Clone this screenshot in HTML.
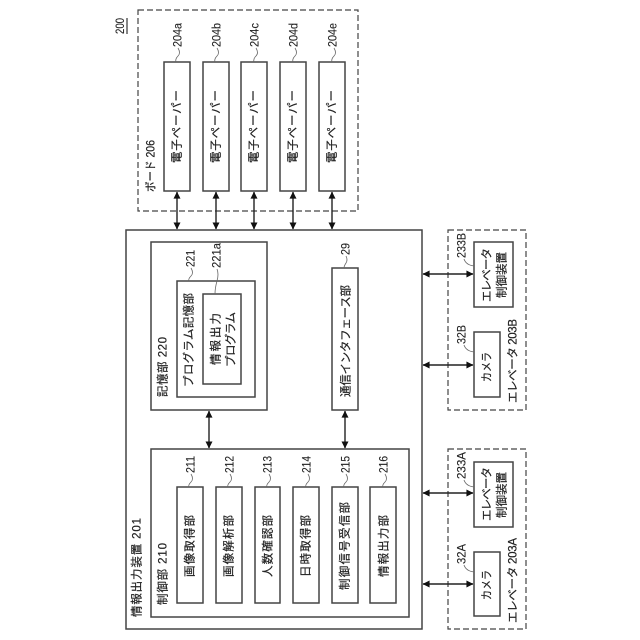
<!DOCTYPE html>
<html><head><meta charset="utf-8"><style>
html,body{margin:0;padding:0;background:#fff}
svg{display:block}
text{font-family:"Liberation Sans","Noto Sans CJK JP",sans-serif;font-size:11.5px;fill:#222;stroke:#222;stroke-width:.2;dominant-baseline:central}
text.n{font-size:11.5px;stroke-width:.1}
.b{fill:#fff;stroke:#444;stroke-width:1.5}
.d{fill:none;stroke:#444;stroke-width:1.2;stroke-dasharray:6 3}
.l{fill:none;stroke:#666;stroke-width:.8}
.a{fill:none;stroke:#222;stroke-width:1.4}
</style></head><body>
<svg width="640" height="640" viewBox="0 0 640 640" xmlns="http://www.w3.org/2000/svg">
<defs><marker id="h" viewBox="0 0 8 8" refX="7.5" refY="4" markerWidth="8" markerHeight="7" markerUnits="userSpaceOnUse" orient="auto-start-reverse"><path d="M0 0L8 4L0 8Z" fill="#111"/></marker></defs>
<rect class="d" x="138" y="10" width="220" height="201"/>
<rect class="d" x="448" y="230" width="78" height="180"/>
<rect class="d" x="448" y="449" width="78" height="180"/>
<rect class="b" x="126" y="230" width="296" height="399"/>
<rect class="b" x="151" y="242" width="116" height="168"/>
<rect class="b" x="177" y="281" width="78" height="116"/>
<rect class="b" x="203" y="294" width="38" height="90"/>
<rect class="b" x="332" y="268" width="26" height="142"/>
<rect class="b" x="151" y="449" width="258" height="168"/>
<rect class="b" x="164" y="62" width="26" height="129"/>
<rect class="b" x="203" y="62" width="26" height="129"/>
<rect class="b" x="241" y="62" width="26" height="129"/>
<rect class="b" x="280" y="62" width="26" height="129"/>
<rect class="b" x="319" y="62" width="26" height="129"/>
<rect class="b" x="177" y="487" width="26" height="116"/>
<rect class="b" x="216" y="487" width="26" height="116"/>
<rect class="b" x="255" y="487" width="25" height="116"/>
<rect class="b" x="293" y="487" width="26" height="116"/>
<rect class="b" x="332" y="487" width="26" height="116"/>
<rect class="b" x="370" y="487" width="26" height="116"/>
<rect class="b" x="474" y="242" width="39" height="65"/>
<rect class="b" x="474" y="332" width="26" height="65"/>
<rect class="b" x="474" y="462" width="39" height="65"/>
<rect class="b" x="474" y="552" width="26" height="64"/>
<path class="a" d="M177 192V229" marker-start="url(#h)" marker-end="url(#h)"/>
<path class="a" d="M216 192V229" marker-start="url(#h)" marker-end="url(#h)"/>
<path class="a" d="M254 192V229" marker-start="url(#h)" marker-end="url(#h)"/>
<path class="a" d="M293 192V229" marker-start="url(#h)" marker-end="url(#h)"/>
<path class="a" d="M332 192V229" marker-start="url(#h)" marker-end="url(#h)"/>
<path class="a" d="M209 411V448" marker-start="url(#h)" marker-end="url(#h)"/>
<path class="a" d="M345 411V448" marker-start="url(#h)" marker-end="url(#h)"/>
<path class="a" d="M423 274H473" marker-start="url(#h)" marker-end="url(#h)"/>
<path class="a" d="M423 365H473" marker-start="url(#h)" marker-end="url(#h)"/>
<path class="a" d="M423 493H473" marker-start="url(#h)" marker-end="url(#h)"/>
<path class="a" d="M423 584H473" marker-start="url(#h)" marker-end="url(#h)"/>
<path class="l" d="M178 48q3 5 0 8t-2 6"/>
<path class="l" d="M217 48q3 5 0 8t-2 6"/>
<path class="l" d="M256 48q3 5 0 8t-2 6"/>
<path class="l" d="M295 48q3 5 0 8t-2 6"/>
<path class="l" d="M334 48q3 5 0 8t-2 6"/>
<path class="l" d="M191 268q3 5 0 8t-2 5"/>
<path class="l" d="M217 269q2 5 0 12t-2 13"/>
<path class="l" d="M346 256q2 4 0 7t-2 5"/>
<path class="l" d="M191 474q3 5 0 8t-2 5"/>
<path class="l" d="M230 474q3 5 0 8t-2 5"/>
<path class="l" d="M269 474q3 5 0 8t-2 5"/>
<path class="l" d="M308 474q3 5 0 8t-2 5"/>
<path class="l" d="M346 474q3 5 0 8t-2 5"/>
<path class="l" d="M385 474q3 5 0 8t-2 5"/>
<path class="l" d="M464 259q2 6 10 7"/>
<path class="l" d="M464 345q2 6 10 7"/>
<path class="l" d="M464 480q2 6 10 7"/>
<path class="l" d="M464 565q2 6 10 7"/>
<path d="M127 18V34" stroke="#333" stroke-width="1.2" fill="none"/>
<text class="n" transform="translate(121,34) rotate(-90)" textLength="16" lengthAdjust="spacingAndGlyphs">200</text>
<text class="n" transform="translate(178.5,47) rotate(-90)" textLength="24" lengthAdjust="spacingAndGlyphs">204a</text>
<text class="n" transform="translate(217.5,47) rotate(-90)" textLength="24" lengthAdjust="spacingAndGlyphs">204b</text>
<text class="n" transform="translate(255.5,47) rotate(-90)" textLength="24" lengthAdjust="spacingAndGlyphs">204c</text>
<text class="n" transform="translate(294.5,47) rotate(-90)" textLength="24" lengthAdjust="spacingAndGlyphs">204d</text>
<text class="n" transform="translate(333.5,47) rotate(-90)" textLength="24" lengthAdjust="spacingAndGlyphs">204e</text>
<text transform="translate(151.5,192) rotate(-90)" textLength="52" lengthAdjust="spacingAndGlyphs">ボード 206</text>
<text transform="translate(177.5,163) rotate(-90)" textLength="73">電子ペーパー</text>
<text transform="translate(216.5,163) rotate(-90)" textLength="73">電子ペーパー</text>
<text transform="translate(254.5,163) rotate(-90)" textLength="73">電子ペーパー</text>
<text transform="translate(293.5,163) rotate(-90)" textLength="73">電子ペーパー</text>
<text transform="translate(332.5,163) rotate(-90)" textLength="73">電子ペーパー</text>
<text class="n" transform="translate(191.5,267) rotate(-90)" textLength="17" lengthAdjust="spacingAndGlyphs">221</text>
<text class="n" transform="translate(217.5,268) rotate(-90)" textLength="25" lengthAdjust="spacingAndGlyphs">221a</text>
<text class="n" transform="translate(346.5,255) rotate(-90)" textLength="12" lengthAdjust="spacingAndGlyphs">29</text>
<text transform="translate(163.5,397) rotate(-90)" textLength="60">記憶部 220</text>
<text transform="translate(189.5,387) rotate(-90)" textLength="94">プログラム記憶部</text>
<text transform="translate(216.5,365) rotate(-90)" textLength="52">情報出力</text>
<text transform="translate(231.5,367) rotate(-90)" textLength="55">プログラム</text>
<text transform="translate(346.5,397) rotate(-90)" textLength="112">通信インタフェース部</text>
<text transform="translate(137.5,617) rotate(-90)" textLength="99">情報出力装置 201</text>
<text transform="translate(163.5,605) rotate(-90)" textLength="62">制御部 210</text>
<text class="n" transform="translate(191.5,473) rotate(-90)" textLength="17" lengthAdjust="spacingAndGlyphs">211</text>
<text class="n" transform="translate(230.5,473) rotate(-90)" textLength="17" lengthAdjust="spacingAndGlyphs">212</text>
<text class="n" transform="translate(268.5,473) rotate(-90)" textLength="17" lengthAdjust="spacingAndGlyphs">213</text>
<text class="n" transform="translate(307.5,473) rotate(-90)" textLength="17" lengthAdjust="spacingAndGlyphs">214</text>
<text class="n" transform="translate(346.5,473) rotate(-90)" textLength="17" lengthAdjust="spacingAndGlyphs">215</text>
<text class="n" transform="translate(384.5,473) rotate(-90)" textLength="17" lengthAdjust="spacingAndGlyphs">216</text>
<text transform="translate(190.5,577) rotate(-90)" textLength="62">画像取得部</text>
<text transform="translate(229.5,577) rotate(-90)" textLength="62">画像解析部</text>
<text transform="translate(268.5,577) rotate(-90)" textLength="62">人数確認部</text>
<text transform="translate(306.5,577) rotate(-90)" textLength="62">日時取得部</text>
<text transform="translate(345.5,590) rotate(-90)" textLength="88">制御信号受信部</text>
<text transform="translate(384.5,577) rotate(-90)" textLength="62">情報出力部</text>
<text class="n" transform="translate(462.5,258) rotate(-90)" textLength="25" lengthAdjust="spacingAndGlyphs">233B</text>
<text class="n" transform="translate(462.5,344) rotate(-90)" textLength="19" lengthAdjust="spacingAndGlyphs">32B</text>
<text transform="translate(487.5,302) rotate(-90)" textLength="54">エレベータ</text>
<text transform="translate(502.5,298) rotate(-90)" textLength="46">制御装置</text>
<text transform="translate(487.5,382) rotate(-90)" textLength="30" lengthAdjust="spacingAndGlyphs">カメラ</text>
<text transform="translate(513.5,403) rotate(-90)" textLength="84">エレベータ 203B</text>
<text class="n" transform="translate(462.5,479) rotate(-90)" textLength="27" lengthAdjust="spacingAndGlyphs">233A</text>
<text class="n" transform="translate(462.5,564) rotate(-90)" textLength="20" lengthAdjust="spacingAndGlyphs">32A</text>
<text transform="translate(487.5,521) rotate(-90)" textLength="54">エレベータ</text>
<text transform="translate(502.5,518) rotate(-90)" textLength="46">制御装置</text>
<text transform="translate(487.5,600) rotate(-90)" textLength="30" lengthAdjust="spacingAndGlyphs">カメラ</text>
<text transform="translate(513.5,623) rotate(-90)" textLength="85">エレベータ 203A</text>
</svg>
</body></html>
